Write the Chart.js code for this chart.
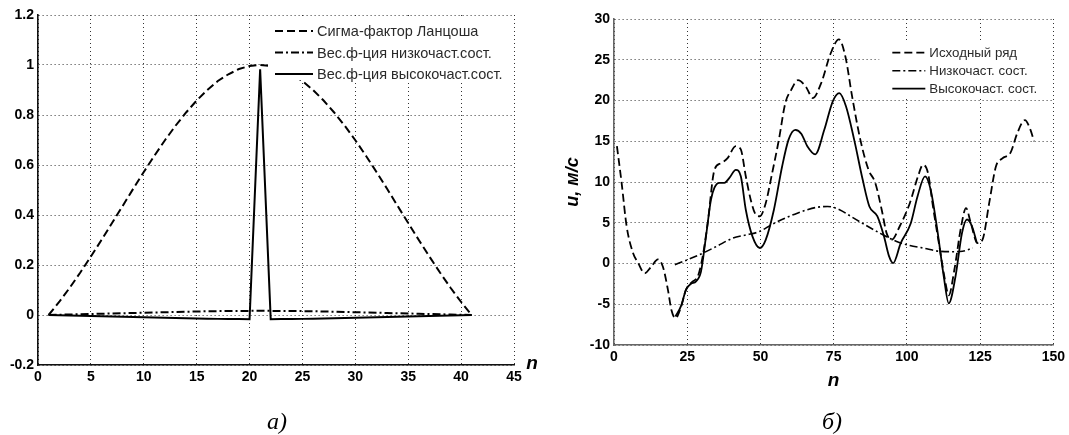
<!DOCTYPE html>
<html>
<head>
<meta charset="utf-8">
<script src="https://cdn.jsdelivr.net/npm/chart.js@4.4.0/dist/chart.umd.min.js"></script>
<style>
  html, body { margin: 0; padding: 0; background: #fff; }
  #wrap { position: relative; width: 1069px; height: 435px; overflow: hidden; }
  #leftChart { position: absolute; left: 0; top: 0; }
  #rightChart { position: absolute; left: 560px; top: 0; }
  .cap { position: absolute; font-family: "Liberation Serif", serif; font-style: italic; font-size: 24px; transform: translate(-50%, -50%); line-height: 1; }
  .axn { position: absolute; font-family: "Liberation Sans", Arial, sans-serif; font-weight: bold; font-style: italic; font-size: 19px; transform: translate(-50%, -50%); line-height: 1; }
</style>
</head>
<body>
<div id="wrap">
  <canvas id="leftChart" width="560" height="435"></canvas>
  <canvas id="rightChart" width="509" height="435"></canvas>
  <div class="axn" style="left:532px; top:362px;">n</div>
  <div class="cap" style="left:277px; top:421px;">а)</div>
  <div class="cap" style="left:832px; top:421px;">б)</div>
</div>
<script>
// ---- left plot: weight functions ----
const nLeft = [1, 2, 3, 4, 5, 6, 7, 8, 9, 10, 11, 12, 13, 14, 15, 16, 17, 18, 19, 20, 21,
    22, 23, 24, 25, 26, 27, 28, 29, 30, 31, 32, 33, 34, 35, 36, 37, 38, 39, 40, 41];
const sigmaLanczos = [0, 0.052, 0.109, 0.170, 0.234, 0.300, 0.368, 0.436, 0.505, 0.572, 0.637,
    0.699, 0.757, 0.810, 0.858, 0.900, 0.936, 0.963, 0.984, 0.996, 1,
    0.996, 0.984, 0.963, 0.936, 0.900, 0.858, 0.810, 0.757, 0.699, 0.637,
    0.572, 0.505, 0.436, 0.368, 0.300, 0.234, 0.170, 0.109, 0.052, 0];
const lowWeight = [0, 0.001, 0.002, 0.003, 0.004, 0.005, 0.006, 0.007, 0.008, 0.009, 0.010,
    0.011, 0.012, 0.013, 0.014, 0.015, 0.0155, 0.016, 0.0163, 0.0165, 0.0167,
    0.0165, 0.0163, 0.016, 0.0155, 0.015, 0.014, 0.013, 0.012, 0.011, 0.010,
    0.009, 0.008, 0.007, 0.006, 0.005, 0.004, 0.003, 0.002, 0.001, 0];
const highWeight = [0, -0.001, -0.002, -0.003, -0.004, -0.005, -0.006, -0.007, -0.008, -0.009, -0.010,
    -0.011, -0.012, -0.013, -0.014, -0.015, -0.0155, -0.016, -0.0163, -0.0165, 0.983,
    -0.0165, -0.0163, -0.016, -0.0155, -0.015, -0.014, -0.013, -0.012, -0.011, -0.010,
    -0.009, -0.008, -0.007, -0.006, -0.005, -0.004, -0.003, -0.002, -0.001, 0];

// ---- right plot: wind speed series ----
const nOrig = [1, 2.6, 4.3, 6.5, 8.2, 10.5, 12.7, 15, 16.7, 18.4, 19.6, 21, 22.9, 24.6, 26.9,
    28.6, 30.3, 32, 34.3, 36.5, 38.7, 41.6, 43.3, 45, 46.7, 48.4, 49.8, 51.8, 54, 56.3,
    58.5, 60.5, 62.8, 65.5, 67.9, 70.7, 74, 76.8, 79, 81.3, 84.1, 86.9, 89.2, 91.4, 93.1,
    94.8, 97.6, 101, 103.8, 105.5, 107.2, 108.9, 111.1, 112.8, 114.3, 116.2, 118.5, 120.2, 121.8, 124.1,
    125.8, 128.1, 130.4, 132.6, 135.4, 137.7, 140.3, 142.2, 143.4];
const uOrig = [14.4, 9.9, 4.6, 1.3, 0.1, -1.2, -0.4, 0.5, -0.4, -3.2, -5.7, -6.7, -5.3, -3.2, -2.2,
    -1.6, 0.9, 5, 11.5, 12.3, 12.9, 14.4, 14, 10.7, 7.8, 6.0, 5.8, 7.4, 11.1, 15.2,
    19.7, 21.3, 22.5, 21.7, 20.3, 22.1, 25.8, 27.5, 25.4, 20.5, 15.2, 11.5, 9.9, 6.6, 3.7,
    2.9, 4.6, 7.4, 10.7, 12.1, 11.1, 7, 2.1, -1.6, -3.9, -0.8, 4.5, 6.8, 5, 2.5,
    2.9, 7.4, 11.9, 12.9, 13.6, 16, 17.6, 16.4, 15];

const nLow = [20.8, 25, 29.3, 35, 40.5, 45, 49.5, 54, 58.6, 62.8, 66, 69.3, 72.9, 77, 80.8,
    85, 90.9, 96.5, 101, 105.5, 111.1, 116, 119, 122.5];
const uLow = [-0.15, 0.45, 1.1, 2.1, 3.1, 3.5, 3.9, 4.8, 5.6, 6.2, 6.6, 6.9, 7.0, 6.6, 5.8,
    4.9, 3.7, 2.7, 2.2, 1.9, 1.5, 1.45, 1.5, 1.9];

const nHigh = [21, 22.9, 24.6, 26.3, 28, 29.7, 31.4, 33.1, 34.3, 36, 37.7, 39.4, 41.6, 43.3, 45,
    47.3, 49.8, 51.8, 54.6, 57.4, 59.6, 61.9, 64, 66, 68.7, 71.8, 74.7, 76.9, 79.2, 82,
    84.9, 87.2, 89.9, 92.2, 93.9, 95.3, 97.9, 101.3, 103.6, 106.2, 108.1, 110.4, 112.6, 114.3, 116.6,
    118.8, 120.5, 122.2, 123.9];
const uHigh = [-6.5, -5.2, -3.2, -2.5, -2.2, -1.0, 3.3, 7.8, 9.3, 9.9, 9.9, 10.5, 11.5, 10.7, 6.6,
    3.3, 1.9, 2.9, 6.6, 11.9, 15.2, 16.4, 15.9, 14.4, 13.4, 16.4, 19.9, 20.9, 19.3, 15.2,
    10.3, 7.0, 5.8, 3.3, 0.9, 0.05, 2.5, 4.9, 8.2, 10.7, 9.1, 4.1, -1.6, -4.9, -1.6,
    3.7, 5.4, 4.6, 2.5];

const leftLabels = ['Сигма-фактор Ланцоша', 'Вес.ф-ция низкочаст.сост.', 'Вес.ф-ция высокочаст.сост.'];
const rightLabels = ['Исходный ряд', 'Низкочаст. сост.', 'Высокочаст. сост.'];

const FONT = "'Liberation Sans', Arial, sans-serif";
const DASHED = [8, 4];
const DASHDOT = [8, 3, 2, 3];

function pts(xs, ys) {
    return xs.map((x, i) => ({ x: x, y: ys[i] }));
}

// legend drawn inside the plot on a white box (covers lines / grid behind it)
const insideLegend = {
    id: 'insideLegend',
    afterDatasetsDraw(chart, args, opts) {
        const ctx = chart.ctx;
        const a = chart.chartArea;
        const bx = a.right - opts.right - opts.width;
        const by = a.top + opts.top;
        ctx.save();
        ctx.fillStyle = '#fff';
        ctx.fillRect(bx, by, opts.width, opts.height);
        ctx.font = opts.fontSize + 'px ' + FONT;
        ctx.textBaseline = 'middle';
        chart.data.datasets.forEach((ds, i) => {
            const y = by + opts.firstRow + i * opts.rowGap;
            const sx = bx + opts.sampleX;
            ctx.strokeStyle = '#000';
            ctx.lineWidth = ds.borderWidth;
            ctx.setLineDash(ds.borderDash || []);
            ctx.beginPath();
            ctx.moveTo(sx, y);
            ctx.lineTo(sx + opts.sampleW, y);
            ctx.stroke();
            ctx.setLineDash([]);
            ctx.fillStyle = '#2a2a2a';
            ctx.fillText(ds.label, sx + opts.sampleW + 4, y + 1);
        });
        ctx.restore();
    }
};

function axis(min, max, step, fix, borderColor, extra) {
    return Object.assign({
        type: 'linear',
        min: min,
        max: max,
        ticks: {
            stepSize: step,
            autoSkip: false,
            maxRotation: 0,
            color: '#000',
            font: { family: FONT, size: 14, weight: 'bold' },
            padding: 4,
            callback: v => String(Math.round(v * 10) / 10)
        },
        grid: { color: '#333', lineWidth: 1, drawTicks: false },
        border: { color: borderColor, width: 1.6, dash: [1, 3] },
        afterFit: fix
    }, extra || {});
}

new Chart(document.getElementById('leftChart'), {
    type: 'line',
    data: {
        datasets: [
            { label: leftLabels[0], data: pts(nLeft, sigmaLanczos), borderDash: DASHED, borderWidth: 2 },
            { label: leftLabels[1], data: pts(nLeft, lowWeight), borderDash: DASHDOT, borderWidth: 2 },
            { label: leftLabels[2], data: pts(nLeft, highWeight), borderWidth: 2 }
        ]
    },
    options: {
        responsive: false,
        animation: false,
        devicePixelRatio: 1,
        layout: { padding: { left: 0, top: 15, right: 46, bottom: 0 } },
        elements: {
            point: { radius: 0 },
            line: { borderColor: '#000', tension: 0, fill: false }
        },
        scales: {
            x: axis(0, 45, 5, s => { s.height = 70; }, '#111'),
            y: axis(-0.2, 1.2, 0.2, s => { s.width = 38; }, '#111')
        },
        plugins: {
            legend: { display: false },
            tooltip: { enabled: false },
            insideLegend: { right: 2, width: 244, top: 3, height: 62, sampleX: 7, sampleW: 38,
                firstRow: 13, rowGap: 21.5, fontSize: 14.5 }
        }
    },
    plugins: [insideLegend]
});

new Chart(document.getElementById('rightChart'), {
    type: 'line',
    data: {
        datasets: [
            { label: rightLabels[0], data: pts(nOrig, uOrig), borderDash: DASHED, borderWidth: 1.8 },
            { label: rightLabels[1], data: pts(nLow, uLow), borderDash: DASHDOT, borderWidth: 1.6 },
            { label: rightLabels[2], data: pts(nHigh, uHigh), borderWidth: 1.8 }
        ]
    },
    options: {
        responsive: false,
        animation: false,
        devicePixelRatio: 1,
        layout: { padding: { left: 0, top: 19, right: 11, bottom: 0 } },
        elements: {
            point: { radius: 0 },
            line: { borderColor: '#000', cubicInterpolationMode: 'monotone', fill: false }
        },
        scales: {
            x: axis(0, 150, 25, s => { s.height = 90; }, '#666', {
                title: { display: true, text: 'n', color: '#000',
                    font: { family: FONT, size: 19, weight: 'bold', style: 'italic' },
                    padding: { top: 0, bottom: 43 } }
            }),
            y: axis(-10, 30, 5, s => { s.width = 54; }, '#666', {
                title: { display: true, text: 'u, м/с', color: '#000',
                    font: { family: FONT, size: 18, weight: 'bold', style: 'italic' },
                    padding: { top: 2, bottom: 0 } }
            })
        },
        plugins: {
            legend: { display: false },
            tooltip: { enabled: false },
            insideLegend: { right: 2, width: 172, top: 21, height: 57, sampleX: 13, sampleW: 33,
                firstRow: 12.7, rowGap: 18, fontSize: 13.3 }
        }
    },
    plugins: [insideLegend]
});
</script>
</body>
</html>
